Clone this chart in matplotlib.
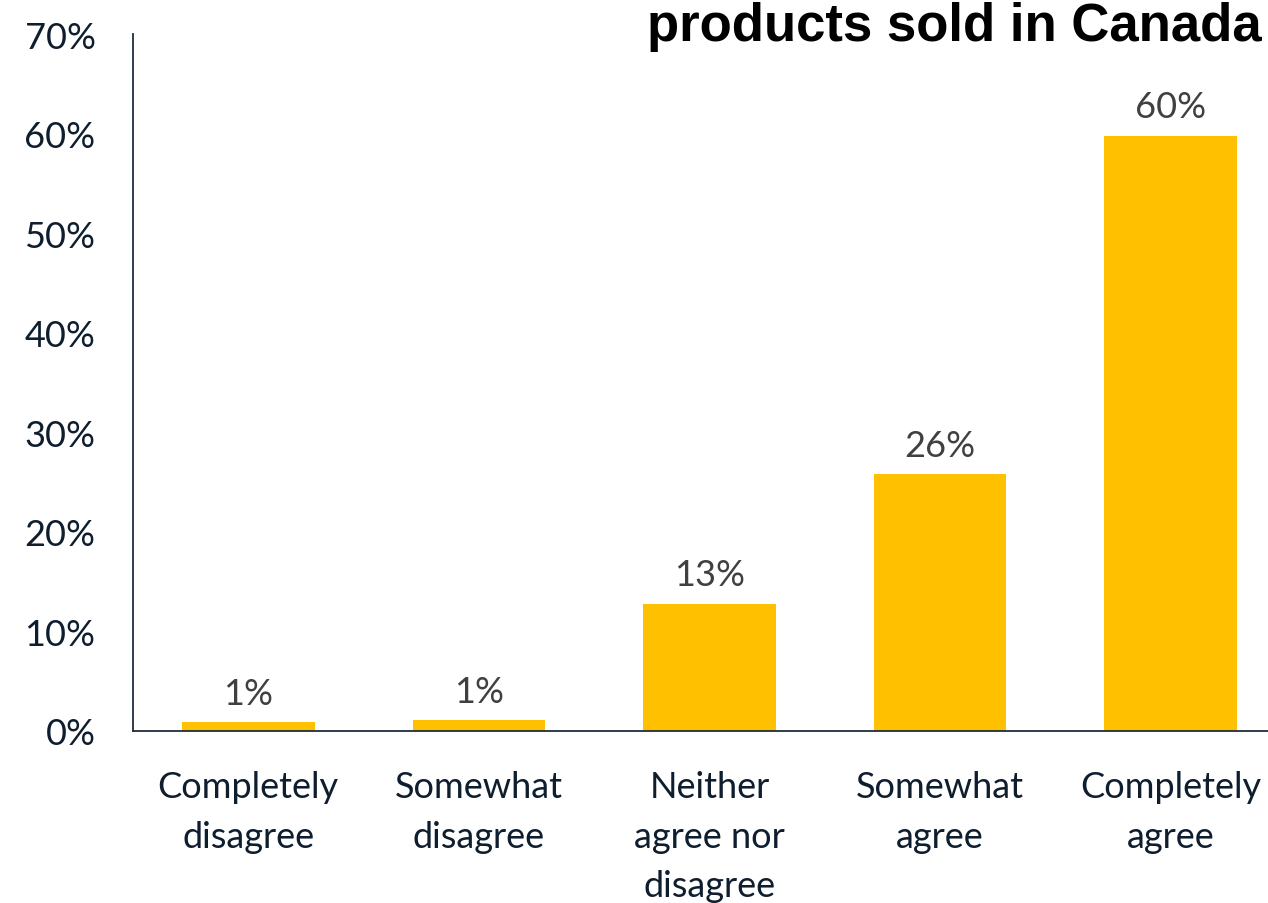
import matplotlib
matplotlib.use('Agg')
import matplotlib.pyplot as plt

# survey answers (share of respondents)
categories = ['Completely\ndisagree', 'Somewhat\ndisagree', 'Neither\nagree nor\ndisagree',
              'Somewhat\nagree', 'Completely\nagree']
shares = [0.9, 1.1, 12.8, 25.8, 59.8]
yticks = [0, 10, 20, 30, 40, 50, 60, 70]
title_line = 'products sold in Canada'

bar_col = '#FFC000'
txt_col = '#0E1E2E'

fig = plt.figure(figsize=(12.68, 9.04), dpi=100)
ax = fig.add_axes([0.1049, 0.1903, 0.9093, 0.7705])

x = list(range(len(categories)))
ax.bar(x, shares, width=0.575, color=bar_col)
for xi, v in zip(x, shares):
    ax.annotate('{:.0f}%'.format(v), (xi, v), xytext=(0, 9), textcoords='offset points',
                ha='center', va='bottom', fontsize=26, color='#404040', family='Lato')

ax.set_xlim(-0.5, 4.5)
ax.set_ylim(0, 70)
ax.set_yticks(yticks)
ax.set_yticklabels(['{}%'.format(t) for t in yticks], fontsize=26, color=txt_col, family='Lato')
ax.set_xticks(x)
ax.set_xticklabels(categories, fontsize=26, color=txt_col, family='Lato', linespacing=1.62)
ax.tick_params(axis='y', length=0, pad=27)
ax.tick_params(axis='x', length=0, pad=28)

for s in ['top', 'right']:
    ax.spines[s].set_visible(False)
for s in ['left', 'bottom']:
    ax.spines[s].set_color('#1F2D3D')
    ax.spines[s].set_linewidth(1.3)

fig.text(0.9953, 0.955, title_line, ha='right', va='baseline', fontsize=38,
         fontweight='bold', family='Liberation Sans', color='black')

fig.savefig('out.png', dpi=100)
